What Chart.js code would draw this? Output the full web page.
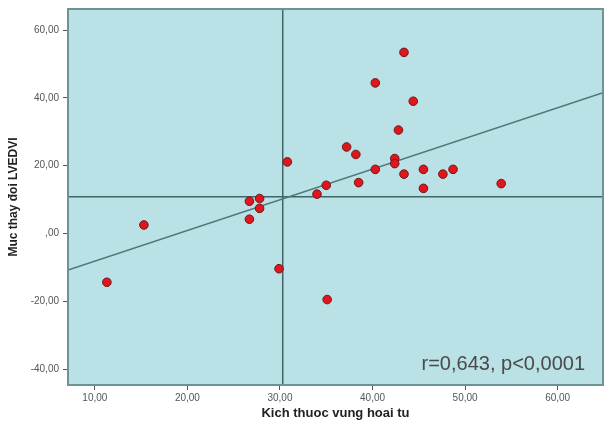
<!DOCTYPE html>
<html>
<head>
<meta charset="utf-8">
<script src="https://cdn.jsdelivr.net/npm/chart.js@4.4.1/dist/chart.umd.min.js"></script>
<style>
  html, body { margin: 0; padding: 0; background: #fff; }
  #wrap { width: 604px; height: 427px; }
</style>
</head>
<body>
<div id="wrap"><canvas id="scatter" width="604" height="427"></canvas></div>
<script>
// size of necrotic zone (x) vs change in LVEDVI (y)
const sizeX = [11.3, 15.3, 26.7, 27.8, 27.8, 26.7, 29.9, 30.8, 34.0, 35.0, 35.1, 37.2, 38.2, 38.5,
               40.3, 40.3, 42.4, 42.4, 42.8, 43.4, 43.4, 44.4, 45.5, 45.5, 47.6, 48.7, 53.9];
const changeY = [-14.4, 2.5, 9.5, 10.3, 7.4, 4.2, -10.4, 21.1, 11.6, 14.2, -19.5, 25.5, 23.3, 15.0,
                 44.4, 18.9, 22.1, 20.6, 30.5, 53.4, 17.5, 39.0, 18.9, 13.3, 17.5, 18.9, 14.7];

const xRange = [7.1, 64.9];
const yRange = [-44.7, 66.2];
const xTicks = [10, 20, 30, 40, 50, 60];
const yTicks = [-40, -20, 0, 20, 40, 60];

const meanX = 30.3;
const meanY = 10.8;
const fitY = [-10.8, 41.5];   // regression line at xRange ends
const statText = 'r=0,643, p<0,0001';

const points = sizeX.map((x, i) => ({ x: x, y: changeY[i] }));

const fmt = v => v === 0 ? ',00' : v.toFixed(2).replace('.', ',');

const plotFrame = {
    id: 'plotFrame',
    beforeDatasetsDraw(chart) {
        const { ctx, chartArea: a } = chart;
        ctx.save();
        ctx.fillStyle = '#b9e1e6';
        ctx.fillRect(a.left, a.top, a.right - a.left, a.bottom - a.top);
        ctx.restore();
    },
    afterDatasetsDraw(chart) {
        const { ctx, chartArea: a } = chart;
        ctx.save();
        ctx.strokeStyle = '#6f9395';
        ctx.lineWidth = 2;
        ctx.strokeRect(a.left, a.top, a.right - a.left, a.bottom - a.top);
        ctx.font = '20px "Liberation Sans", Arial, sans-serif';
        ctx.fillStyle = '#4a4a4a';
        ctx.textAlign = 'right';
        ctx.textBaseline = 'middle';
        ctx.fillText(statText, a.right - 18, 364);
        ctx.restore();
    }
};

new Chart(document.getElementById('scatter'), {
    type: 'scatter',
    data: {
        datasets: [
            {
                type: 'line', data: [{ x: xRange[0], y: fitY[0] }, { x: xRange[1], y: fitY[1] }],
                borderColor: '#4f7779', borderWidth: 1.6, pointRadius: 0, order: 3
            },
            {
                type: 'line', data: [{ x: meanX, y: yRange[0] }, { x: meanX, y: yRange[1] }],
                borderColor: '#3f6668', borderWidth: 1.5, pointRadius: 0, order: 4
            },
            {
                type: 'line', data: [{ x: xRange[0], y: meanY }, { x: xRange[1], y: meanY }],
                borderColor: '#3f6668', borderWidth: 1.5, pointRadius: 0, order: 4
            },
            {
                data: points, order: 1,
                pointRadius: 4.3, pointBackgroundColor: '#e2141c',
                pointBorderColor: '#6b1a1a', pointBorderWidth: 1
            }
        ]
    },
    options: {
        responsive: false,
        animation: false,
        layout: { autoPadding: false, padding: { top: 9, right: 1, left: 0, bottom: 0 } },
        plugins: { legend: { display: false }, tooltip: { enabled: false } },
        scales: {
            x: {
                type: 'linear', min: xRange[0], max: xRange[1],
                afterBuildTicks: s => { s.ticks = xTicks.map(v => ({ value: v })); },
                afterFit: s => { s.height = 42; s.paddingLeft = 0; s.paddingRight = 0; },
                grid: { drawOnChartArea: false, drawTicks: true, tickLength: 5, color: '#555' },
                border: { display: false },
                ticks: { callback: fmt, color: '#555', font: { size: 10, family: '"Liberation Sans", Arial' }, padding: 2, maxRotation: 0 },
                title: {
                    display: true, text: 'Kich thuoc vung hoai tu', color: '#222',
                    font: { size: 13, weight: 'bold', family: '"Liberation Sans", Arial' },
                    padding: { top: 0, bottom: 6 }
                }
            },
            y: {
                type: 'linear', min: yRange[0], max: yRange[1],
                afterBuildTicks: s => { s.ticks = yTicks.map(v => ({ value: v })); },
                afterFit: s => { s.width = 68; s.paddingTop = 0; s.paddingBottom = 0; },
                grid: { drawOnChartArea: false, drawTicks: true, tickLength: 5, color: '#555' },
                border: { display: false },
                ticks: { callback: fmt, color: '#555', font: { size: 10, family: '"Liberation Sans", Arial' }, padding: 4 },
                title: {
                    display: true, text: 'Muc thay đoi LVEDVI', color: '#222',
                    font: { size: 12, weight: 'bold', family: '"Liberation Sans", Arial' },
                    padding: { top: 6, bottom: 0 }
                }
            }
        }
    },
    plugins: [plotFrame]
});
</script>
</body>
</html>
